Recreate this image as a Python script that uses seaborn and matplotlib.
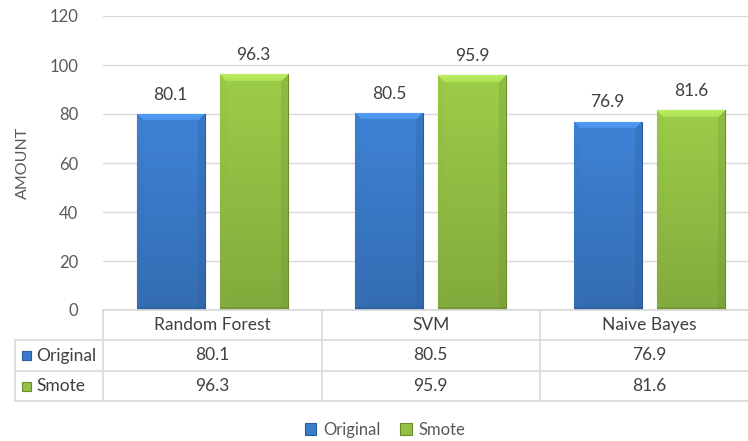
import numpy as np
import pandas as pd
import matplotlib
matplotlib.use("Agg")
import matplotlib.pyplot as plt
import matplotlib.colors as mcolors
from matplotlib.patches import Rectangle
import seaborn as sns

# ---- data ----
models = ["Random Forest", "SVM", "Naive Bayes"]
series = ["Original", "Smote"]
original_vals = [80.1, 80.5, 76.9]
smote_vals = [96.3, 95.9, 81.6]
y_ticks = [0, 20, 40, 60, 80, 100, 120]

base_colors = {"Original": "#3b7bca", "Smote": "#94c145"}
edge_colors = {"Original": "#2a5b9a", "Smote": "#6a8c2c"}

df = pd.DataFrame({
    "model": models * 2,
    "series": [series[0]] * 3 + [series[1]] * 3,
    "value": original_vals + smote_vals,
})

sns.set_theme(style="white")
plt.rcParams["font.family"] = ["Lato", "DejaVu Sans"]
TEXT = "#595959"

W, H, DPI = 748, 441, 100
fig = plt.figure(figsize=(W / DPI, H / DPI), dpi=DPI)
ax_l, ax_r, ax_b, ax_t = 103, 758.5, 310, 16
ax = fig.add_axes([ax_l / W, 1 - ax_b / H, (ax_r - ax_l) / W, (ax_b - ax_t) / H])

sns.barplot(data=df, x="model", y="value", hue="series", order=models,
            hue_order=series, palette=base_colors, width=0.76, gap=0.184,
            saturation=1, ax=ax, legend=False, zorder=3)

ax.set_xlim(-0.5, 2.5)
ax.set_ylim(0, 120)
ax.set_yticks(y_ticks)
ax.set_yticklabels([str(t) for t in y_ticks], color=TEXT, fontsize=12)
ax.tick_params(axis="y", length=0, pad=18)
ax.set_xticks([])
ax.set_xlabel("")
ax.set_ylabel("AMOUNT", color=TEXT, fontsize=11.5, labelpad=14)
ax.yaxis.grid(True, color="#d9d9d9", linewidth=1)
ax.set_axisbelow(True)
for s in ["top", "right", "left"]:
    ax.spines[s].set_visible(False)
ax.spines["bottom"].set_color("#d9d9d9")
ax.spines["bottom"].set_zorder(5)


def bevel_image(color, nx, ny, bevel=7):
    """RGBA image of a bevelled bar face."""
    rgb = np.array(mcolors.to_rgb(color))
    yy, xx = np.mgrid[0:ny, 0:nx].astype(float)
    t = yy / max(ny - 1, 1)
    # body: slightly lighter at top, darker toward the base
    body = rgb[None, None, :] * (1.06 - 0.18 * t)[..., None]
    img = body.copy()
    light = np.clip(rgb * 1.15 + 0.06, 0, 1)
    dark = rgb * 0.72
    left = xx < bevel
    right = xx >= nx - bevel
    bottom = yy >= ny - 3
    img[left] = img[left] * 0.85 + 0.15 * (rgb * 0.92)
    img[right] = img[right] * 0.75 + 0.25 * dark
    img[bottom] = img[bottom] * 0.45 + 0.55 * dark
    top_mask = (yy < bevel) & (xx >= yy) & (xx < nx - yy)
    frac = (yy / bevel)[..., None]
    top_col = light[None, None, :] * (1 - 0.4 * frac) + body * 0.4 * frac
    img[top_mask] = top_col[top_mask]
    img = np.clip(img, 0, 1)
    return np.dstack([img, np.ones((ny, nx))])


for cont, name in zip(ax.containers, series):
    for patch in cont.patches:
        x0, y0 = patch.get_x(), patch.get_y()
        w, h = patch.get_width(), patch.get_height()
        patch.set_edgecolor(edge_colors[name])
        patch.set_linewidth(0.8)
        nx = 68
        ny = max(int(round(h * 2.45)), 2)
        im = ax.imshow(bevel_image(base_colors[name], nx, ny), origin="upper",
                       extent=(x0, x0 + w, y0, y0 + h), aspect="auto",
                       zorder=3.5, interpolation="bilinear")
        im.set_clip_path(patch)
    ax.bar_label(cont, labels=[f"{v:.1f}" for v in cont.datavalues],
                 padding=8, color="#404040", fontsize=12.5)

ax.set_xlim(-0.5, 2.5)
ax.set_ylim(0, 120)

# ---- data table below the axes ----
def fx(px):
    return px / W


def fy(py):
    return 1 - py / H


line_kw = dict(color="#d9d9d9", linewidth=1.2, transform=fig.transFigure, zorder=1)
row_y = [310, 340, 371, 401]
for y in row_y[1:]:
    fig.add_artist(plt.Line2D([fx(15), fx(760)], [fy(y), fy(y)], **line_kw))
fig.add_artist(plt.Line2D([fx(15), fx(15)], [fy(340), fy(401)], **line_kw))
col_x = [ax_l + i * (ax_r - ax_l) / 3 for i in range(4)]
for x in col_x[:3]:
    fig.add_artist(plt.Line2D([fx(x), fx(x)], [fy(310), fy(401)], **line_kw))

TABLE_TEXT = "#404040"
FS = 12.5
for i, m in enumerate(models):
    cx = (col_x[i] + col_x[i + 1]) / 2
    fig.text(fx(cx), fy(325), m, ha="center", va="center", fontsize=FS, color=TABLE_TEXT)
    fig.text(fx(cx), fy(355.5), f"{original_vals[i]:.1f}", ha="center", va="center",
             fontsize=FS, color=TABLE_TEXT)
    fig.text(fx(cx), fy(386), f"{smote_vals[i]:.1f}", ha="center", va="center",
             fontsize=FS, color=TABLE_TEXT)


def key_square(px, py, name):
    s = 9
    fig.add_artist(Rectangle((fx(px), fy(py + s / 2)), s / W, s / H,
                             transform=fig.transFigure, facecolor=base_colors[name],
                             edgecolor=edge_colors[name], linewidth=0.8))


for name, y in zip(series, [355.5, 386]):
    key_square(22, y, name)
    fig.text(fx(36), fy(y), name, ha="left", va="center", fontsize=FS, color=TABLE_TEXT)

# ---- legend ----
handles = [Rectangle((0, 0), 1, 1, facecolor=base_colors[n], edgecolor=edge_colors[n],
                     linewidth=0.8) for n in series]
fig.legend(handles, series, loc="center", bbox_to_anchor=(fx(385), fy(430)), ncol=2,
           frameon=False, fontsize=12, handlelength=0.7, handleheight=0.7,
           handletextpad=0.4, columnspacing=1.2, labelcolor=TEXT)

fig.savefig("out.png", dpi=DPI, facecolor="white")
